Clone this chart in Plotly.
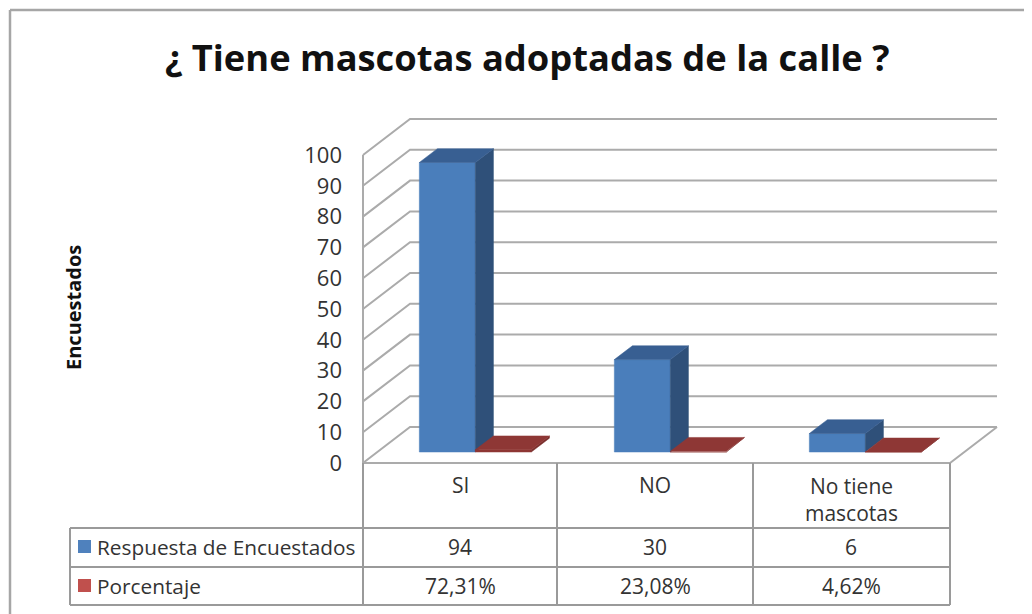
import plotly.graph_objects as go

# ---- data ----
categories = ["SI", "NO", "No tiene<br>mascotas"]
respuestas = [94, 30, 6]
porcentajes = [72.31, 23.08, 4.62]
porcentaje_labels = ["72,31%", "23,08%", "4,62%"]
series_names = ["Respuesta de Encuestados", "Porcentaje"]
y_ticks = [0, 10, 20, 30, 40, 50, 60, 70, 80, 90, 100]
title_text = "¿ Tiene mascotas adoptadas de la calle ?"
y_title = "Encuestados"

# ---- layout constants (window pixels) ----
PAGE = 8                                  # default page margin round the figure
W, H = 1032, 614                          # overflows the window to reach its edges
PL, PR, PT, PB = 360, 1002, 110, 470      # plot rectangle
X0, Y0 = 363, 463                         # front-left floor corner
CAT_PX, VAL_PX = 195.0, 3.08              # pixels per category / per value unit
DEPTH_PX = (47, 36)                       # oblique offset of the back wall

DX = DEPTH_PX[0] / CAT_PX
DY = DEPTH_PX[1] / VAL_PX
GRID = "#ABABAB"
FONT = "Open Sans"
TEXT = "#333333"


def proj(c, v, d):
    """category units, value units, depth 0..1 -> axis coordinates"""
    return c + d * DX, v + d * DY


def px(x):
    return (x - PL) / (PR - PL)


def py(y):
    return (PB - y) / (PB - PT)


def poly(points, color):
    xs, ys = zip(*[proj(*p) for p in points + points[:1]])
    return go.Scatter(x=list(xs), y=list(ys), mode="lines", fill="toself",
                      fillcolor=color, line=dict(color=color, width=0.5),
                      hoverinfo="skip", showlegend=False)


def line(points, color=GRID, width=2):
    xs, ys = zip(*[proj(*p) for p in points])
    return go.Scatter(x=list(xs), y=list(ys), mode="lines",
                      line=dict(color=color, width=width),
                      hoverinfo="skip", showlegend=False)


def box3d(c0, c1, d0, d1, v, front, side, top):
    return [
        poly([(c0, 0, d0), (c1, 0, d0), (c1, v, d0), (c0, v, d0)], front),
        poly([(c1, 0, d0), (c1, 0, d1), (c1, v, d1), (c1, v, d0)], side),
        poly([(c0, v, d0), (c1, v, d0), (c1, v, d1), (c0, v, d1)], top),
    ]


fig = go.Figure()
n = len(categories)
right = (950 - X0) / CAT_PX

# walls and gridlines
for t in y_ticks:
    fig.add_trace(line([(0, t, 0), (0, t, 1), (right, t, 1)]))
fig.add_trace(line([(0, 0, 0), (0, y_ticks[-1], 0)]))
fig.add_trace(line([(0, 0, 0), (right, 0, 0), (right, 0, 1)]))

# columns
BAR_W = 56 / CAT_PX
BAR_START = 42 / CAT_PX
D0, D1 = 0.305, 0.69
for i in range(n):
    c0 = i + BAR_START
    for tr in box3d(c0, c0 + BAR_W, D0, D1, respuestas[i],
                    "#4A7EBB", "#2F5079", "#385F92"):
        fig.add_trace(tr)
    c1 = c0 + BAR_W
    for tr in box3d(c1, c1 + BAR_W, D0, D1, porcentajes[i] / 100,
                    "#8E3735", "#7A2F2D", "#8E3735"):
        fig.add_trace(tr)

# frame and data table
shapes = []


def seg(x0, y0, x1, y1, color="#9A9A9A", width=2):
    shapes.append(dict(type="line", xref="paper", yref="paper",
                       x0=px(x0), y0=py(y0), x1=px(x1), y1=py(y1),
                       line=dict(color=color, width=width)))


seg(10, 10, 1040, 10, "#A6A6A6", 2.5)
seg(10, 10, 10, 622, "#A6A6A6", 2.5)

col_x = [363, 557, 753, 950]
row_y = [528, 567, 605]
for x in col_x:
    seg(x, 463, x, 605)
seg(70, 528, 70, 605)
for y in row_y:
    seg(70, y, 950, y)

key_colors = ["#4F81BD", "#C0504D"]
for y, color in zip([540, 579], key_colors):
    shapes.append(dict(type="rect", xref="paper", yref="paper",
                       x0=px(78), x1=px(91), y0=py(y), y1=py(y + 13),
                       fillcolor=color, line=dict(width=0)))

annotations = []


def label(text, x, y, size=21, color=TEXT, bold=False, anchor="center", angle=0):
    annotations.append(dict(
        text=f"<b>{text}</b>" if bold else text,
        xref="paper", yref="paper", x=px(x), y=py(y),
        xanchor=anchor, yanchor="middle", showarrow=False, textangle=angle,
        font=dict(family=FONT, size=size, color=color)))


label(title_text, 527, 57, size=36.3, color="#111111", bold=True)
label(y_title, 73, 308, size=20, color="#111111", bold=True, angle=-90)
centers = [460, 655, 851]
for cx, cat, a, b in zip(centers, categories, respuestas, porcentaje_labels):
    label(cat, cx, 499 if "<br>" in cat else 485)
    label(str(a), cx, 547)
    label(b, cx, 586)
label(series_names[0], 95, 547, size=20.8, anchor="left")
label(series_names[1], 95, 586, size=20.8, anchor="left")

fig.update_layout(
    width=W, height=H, autosize=False,
    margin=dict(l=PL - PAGE, r=W - (PR - PAGE), t=PT - PAGE, b=H - (PB - PAGE), pad=0),
    paper_bgcolor="white", plot_bgcolor="white",
    showlegend=False, shapes=shapes, annotations=annotations,
    xaxis=dict(range=[(PL - X0) / CAT_PX, (PR - X0) / CAT_PX],
               visible=False, fixedrange=True),
    yaxis=dict(range=[(Y0 - PB) / VAL_PX, (Y0 - PT) / VAL_PX],
               tickmode="array", tickvals=y_ticks,
               ticktext=[str(t) for t in y_ticks],
               ticks="", showgrid=False, zeroline=False, showline=False,
               ticklabelstandoff=17,
               tickfont=dict(family=FONT, size=22, color=TEXT),
               fixedrange=True),
)
fig.write_html("out.html", config=dict(displayModeBar=False))
